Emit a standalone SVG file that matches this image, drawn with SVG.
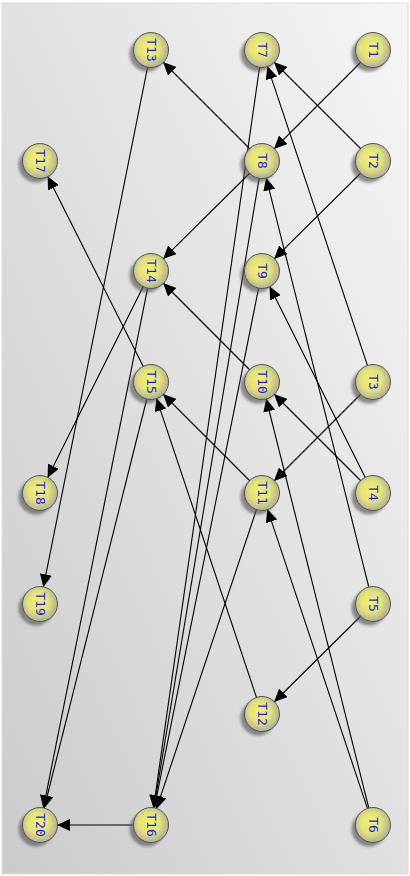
<svg xmlns="http://www.w3.org/2000/svg" width="410" height="876" viewBox="0 0 410 876">
<defs>
<linearGradient id="bg" x1="1" y1="0" x2="0" y2="1">
<stop offset="0" stop-color="#f6f6f6"/>
<stop offset="1" stop-color="#cbcbcb"/>
</linearGradient>
<radialGradient id="nf" cx="0.45" cy="0.45" r="0.55">
<stop offset="0" stop-color="#f4f46a"/>
<stop offset="0.55" stop-color="#e2e27c"/>
<stop offset="1" stop-color="#b0b096"/>
</radialGradient>
<filter id="blur" x="-50%" y="-50%" width="200%" height="200%">
<feGaussianBlur stdDeviation="1.5"/>
</filter>
<marker id="ah" markerUnits="userSpaceOnUse" markerWidth="14" markerHeight="12" refX="13" refY="6" orient="auto">
<path d="M0,0 L13,6 L0,12 z" fill="#000"/>
</marker>
</defs>
<style>
.e{stroke:#000;stroke-width:1.1;fill:none;marker-end:url(#ah)}
.sh{fill:#555;opacity:0.65;filter:url(#blur)}
.c{fill:url(#nf);stroke:#555;stroke-width:1}
.t{font-family:"DejaVu Sans Mono","Liberation Mono",monospace;font-size:13px;fill:#1c1cf0;text-anchor:middle;dominant-baseline:central}
</style>
<rect x="2" y="3" width="406" height="871" fill="url(#bg)" stroke="#dcdcdc"/>
<g id="connectors">
<line class="e" x1="361.0" y1="62.0" x2="274.0" y2="149.0"/>
<line class="e" x1="361.0" y1="149.0" x2="274.0" y2="62.0"/>
<line class="e" x1="360.9" y1="173.0" x2="274.1" y2="259.0"/>
<line class="e" x1="367.6" y1="365.9" x2="267.4" y2="66.1"/>
<line class="e" x1="361.0" y1="394.0" x2="274.0" y2="481.0"/>
<line class="e" x1="365.4" y1="477.8" x2="269.6" y2="286.2"/>
<line class="e" x1="361.0" y1="481.0" x2="274.0" y2="394.0"/>
<line class="e" x1="368.9" y1="587.5" x2="266.1" y2="177.5"/>
<line class="e" x1="360.9" y1="616.0" x2="274.1" y2="702.0"/>
<line class="e" x1="368.9" y1="808.5" x2="266.1" y2="398.5"/>
<line class="e" x1="367.6" y1="808.9" x2="267.4" y2="509.1"/>
<line class="e" x1="250.0" y1="149.0" x2="163.0" y2="62.0"/>
<line class="e" x1="249.9" y1="173.0" x2="163.1" y2="259.0"/>
<line class="e" x1="249.9" y1="370.0" x2="163.1" y2="283.0"/>
<line class="e" x1="250.0" y1="481.0" x2="163.0" y2="394.0"/>
<line class="e" x1="256.6" y1="697.9" x2="156.4" y2="398.1"/>
<line class="e" x1="143.4" y1="366.8" x2="47.6" y2="176.2"/>
<line class="e" x1="147.7" y1="66.7" x2="43.3" y2="587.3"/>
<line class="e" x1="143.4" y1="286.2" x2="47.6" y2="477.8"/>
<line class="e" x1="147.7" y1="287.7" x2="43.3" y2="808.3"/>
<line class="e" x1="146.9" y1="398.5" x2="44.1" y2="808.5"/>
<line class="e" x1="134" y1="825" x2="57" y2="825"/>
<line class="e" x1="259.6" y1="66.8" x2="153.4" y2="808.2"/>
<line class="e" x1="259.2" y1="177.8" x2="153.8" y2="808.2"/>
<line class="e" x1="258.7" y1="287.7" x2="154.3" y2="808.3"/>
<line class="e" x1="256.6" y1="509.1" x2="156.4" y2="808.9"/>
</g>
<g id="T1" transform="translate(373,50)"><circle class="sh" cx="-4" cy="4" r="17.5"/><circle class="c" r="17.5"/><text class="t" transform="rotate(90)">T1</text></g>
<g id="T7" transform="translate(262,50)"><circle class="sh" cx="-4" cy="4" r="17.5"/><circle class="c" r="17.5"/><text class="t" transform="rotate(90)">T7</text></g>
<g id="T13" transform="translate(151,50)"><circle class="sh" cx="-4" cy="4" r="17.5"/><circle class="c" r="17.5"/><text class="t" transform="rotate(90)">T13</text></g>
<g id="T2" transform="translate(373,161)"><circle class="sh" cx="-4" cy="4" r="17.5"/><circle class="c" r="17.5"/><text class="t" transform="rotate(90)">T2</text></g>
<g id="T8" transform="translate(262,161)"><circle class="sh" cx="-4" cy="4" r="17.5"/><circle class="c" r="17.5"/><text class="t" transform="rotate(90)">T8</text></g>
<g id="T17" transform="translate(40,161)"><circle class="sh" cx="-4" cy="4" r="17.5"/><circle class="c" r="17.5"/><text class="t" transform="rotate(90)">T17</text></g>
<g id="T9" transform="translate(262,271)"><circle class="sh" cx="-4" cy="4" r="17.5"/><circle class="c" r="17.5"/><text class="t" transform="rotate(90)">T9</text></g>
<g id="T14" transform="translate(151,271)"><circle class="sh" cx="-4" cy="4" r="17.5"/><circle class="c" r="17.5"/><text class="t" transform="rotate(90)">T14</text></g>
<g id="T3" transform="translate(373,382)"><circle class="sh" cx="-4" cy="4" r="17.5"/><circle class="c" r="17.5"/><text class="t" transform="rotate(90)">T3</text></g>
<g id="T10" transform="translate(262,382)"><circle class="sh" cx="-4" cy="4" r="17.5"/><circle class="c" r="17.5"/><text class="t" transform="rotate(90)">T10</text></g>
<g id="T15" transform="translate(151,382)"><circle class="sh" cx="-4" cy="4" r="17.5"/><circle class="c" r="17.5"/><text class="t" transform="rotate(90)">T15</text></g>
<g id="T4" transform="translate(373,493)"><circle class="sh" cx="-4" cy="4" r="17.5"/><circle class="c" r="17.5"/><text class="t" transform="rotate(90)">T4</text></g>
<g id="T11" transform="translate(262,493)"><circle class="sh" cx="-4" cy="4" r="17.5"/><circle class="c" r="17.5"/><text class="t" transform="rotate(90)">T11</text></g>
<g id="T18" transform="translate(40,493)"><circle class="sh" cx="-4" cy="4" r="17.5"/><circle class="c" r="17.5"/><text class="t" transform="rotate(90)">T18</text></g>
<g id="T5" transform="translate(373,604)"><circle class="sh" cx="-4" cy="4" r="17.5"/><circle class="c" r="17.5"/><text class="t" transform="rotate(90)">T5</text></g>
<g id="T19" transform="translate(40,604)"><circle class="sh" cx="-4" cy="4" r="17.5"/><circle class="c" r="17.5"/><text class="t" transform="rotate(90)">T19</text></g>
<g id="T12" transform="translate(262,714)"><circle class="sh" cx="-4" cy="4" r="17.5"/><circle class="c" r="17.5"/><text class="t" transform="rotate(90)">T12</text></g>
<g id="T6" transform="translate(373,825)"><circle class="sh" cx="-4" cy="4" r="17.5"/><circle class="c" r="17.5"/><text class="t" transform="rotate(90)">T6</text></g>
<g id="T16" transform="translate(151,825)"><circle class="sh" cx="-4" cy="4" r="17.5"/><circle class="c" r="17.5"/><text class="t" transform="rotate(90)">T16</text></g>
<g id="T20" transform="translate(40,825)"><circle class="sh" cx="-4" cy="4" r="17.5"/><circle class="c" r="17.5"/><text class="t" transform="rotate(90)">T20</text></g>
</svg>
